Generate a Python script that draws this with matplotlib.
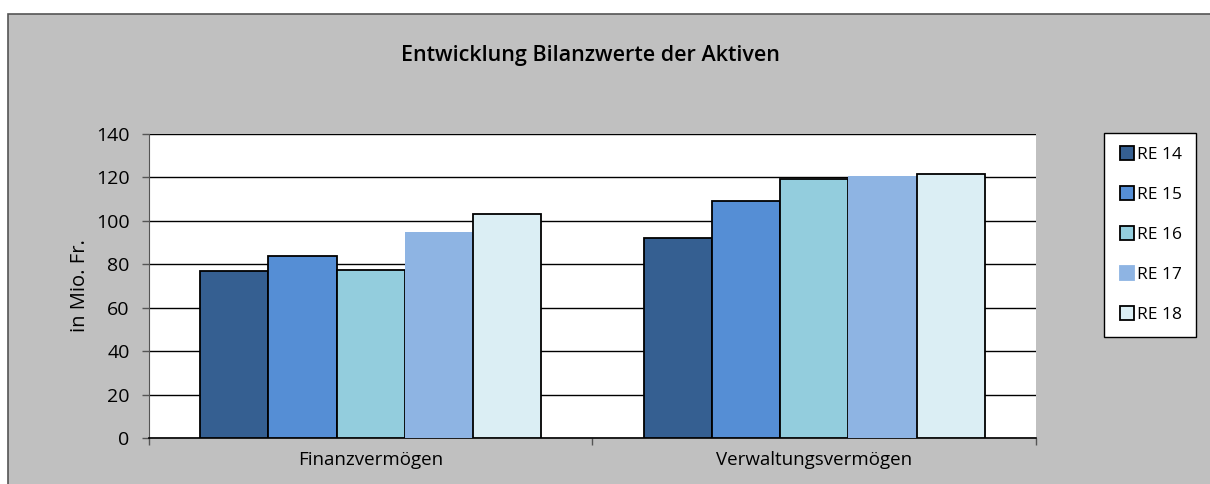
import numpy as np
import matplotlib

matplotlib.use("Agg")
import matplotlib.pyplot as plt
from matplotlib.patches import Rectangle
from matplotlib.lines import Line2D

CATEGORIES = ["Finanzvermögen", "Verwaltungsvermögen"]
SERIES = ["RE 14", "RE 15", "RE 16", "RE 17", "RE 18"]
RE14 = [77.0, 92.0]
RE15 = [83.8, 109.0]
RE16 = [77.4, 119.4]
RE17 = [95.0, 120.7]
RE18 = [103.2, 121.4]
Y_TICKS = [0, 20, 40, 60, 80, 100, 120, 140]

COLORS = ["#355f91", "#558ed5", "#93cddd", "#8eb4e3", "#dbeef4"]
EDGES = ["black", "black", "black", "none", "black"]
BG = "#c0c0c0"
FONT = ["Liberation Sans Narrow", "Open Sans", "DejaVu Sans"]

plt.rcParams["font.family"] = FONT

W, H = 1210, 484
fig = plt.figure(figsize=(W / 100, H / 100), dpi=100)
fig.patch.set_facecolor("white")

# grey chart frame, cut off on the right and bottom like the screenshot
fig.add_artist(Rectangle((8 / W, -0.1), 1.1, 1 - 14 / H + 0.1,
                         transform=fig.transFigure, facecolor=BG,
                         edgecolor="#555555", linewidth=1.2, zorder=0))

ax = fig.add_axes([149 / W, 46 / H, 887 / W, 304 / H])
ax.set_facecolor("white")

values = [RE14, RE15, RE16, RE17, RE18]
x = np.arange(len(CATEGORIES))
bw = 0.154
for i, (vals, col, edge) in enumerate(zip(values, COLORS, EDGES)):
    ax.bar(x + (i - 2) * bw, vals, width=bw, color=col, edgecolor=edge,
           linewidth=1.3 if edge != "none" else 0, zorder=3)

ax.set_xlim(-0.5, 1.5)
ax.set_ylim(0, 140)
ax.set_yticks(Y_TICKS)
ax.set_yticklabels([str(t) for t in Y_TICKS], fontsize=14)
ax.yaxis.grid(True, color="black", linewidth=1.0, zorder=1)
ax.set_axisbelow(True)

ax.set_xticks([-0.5, 0.5, 1.5])
ax.set_xticklabels([])
ax.tick_params(axis="x", length=5, width=1, color="#555555")
ax.tick_params(axis="y", length=5, width=1, color="#555555", pad=9)
for i, c in enumerate(CATEGORIES):
    ax.text(x[i], -6.0, c, ha="center", va="top", fontsize=13.5,
            transform=ax.transData)

for side in ("top", "right"):
    ax.spines[side].set_visible(False)
ax.spines["left"].set_color("#555555")
ax.spines["bottom"].set_color("black")
ax.spines["bottom"].set_linewidth(1.2)

ax.set_ylabel("in Mio. Fr.", fontsize=14.5, labelpad=4)

fig.text(590 / W, 1 - 56 / H, "Entwicklung Bilanzwerte der Aktiven",
         ha="center", va="center", fontsize=15.5, fontweight="semibold")

handles = [Line2D([], [], marker="s", linestyle="none", markersize=10,
                  markerfacecolor=c, markeredgecolor=e if e != "none" else c,
                  markeredgewidth=1.3)
           for c, e in zip(COLORS, EDGES)]
leg = fig.legend(handles, SERIES, loc="upper left",
                 bbox_to_anchor=(1104 / W, 1 - 133 / H), borderaxespad=0,
                 frameon=True, fontsize=12.5, handletextpad=0.1,
                 labelspacing=1.38, borderpad=0.8, handlelength=1.0,
                 fancybox=False, framealpha=1, facecolor="white")
leg.get_frame().set_edgecolor("black")
leg.get_frame().set_linewidth(1.0)

fig.savefig("out.png", dpi=100, facecolor="white")
